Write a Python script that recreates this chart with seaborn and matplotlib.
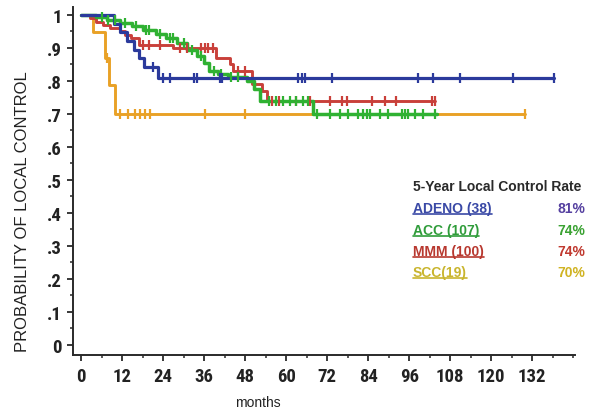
import numpy as np
import pandas as pd
import matplotlib
matplotlib.use("Agg")
import matplotlib.pyplot as plt
import seaborn as sns
from matplotlib.lines import Line2D
from matplotlib.ticker import MultipleLocator
from matplotlib import font_manager

# ---- Kaplan-Meier curves: step times (months) and survival after each step ----
adeno_t = [0, 9.5, 11.5, 13.5, 15.5, 17.0, 18.5, 22.5]
adeno_s = [1.0, 0.974, 0.947, 0.921, 0.895, 0.868, 0.842, 0.81]
adeno_end = 138.5
adeno_cens = [21.0, 24.0, 26.0, 33.0, 34.0, 40.6, 41.2, 63.5, 64.6, 65.5,
              73.4, 98.5, 103.0, 110.8, 126.3, 138.5]

acc_t = [0, 4.5, 7.5, 11.5, 15.0, 18.0, 22.0, 25.0, 28.0, 31.0, 34.0, 36.0,
         37.5, 40.0, 43.0, 48.5, 50.5, 52.3, 68.0]
acc_s = [1.0, 0.994, 0.985, 0.975, 0.965, 0.955, 0.943, 0.93, 0.915, 0.895,
         0.875, 0.855, 0.83, 0.82, 0.812, 0.80, 0.775, 0.74, 0.70]
acc_end = 104.0
acc_cens = [6.0, 8.0, 10.0, 13.0, 16.0, 19.0, 20.0, 23.0, 26.0, 27.0, 30.0,
            32.5, 35.0, 39.0, 41.0, 44.0, 46.0, 55.0, 57.0, 59.0, 61.0, 63.0,
            65.0, 66.5, 69.0, 72.8, 75.7, 78.0, 81.0, 82.5, 83.6, 84.5, 87.4,
            89.8, 94.0, 94.7, 95.6, 97.7, 100.0, 103.5]

mmm_t = [0, 2.6, 4.5, 6.5, 8.5, 11.5, 13.0, 14.5, 17.0, 27.0, 39.5, 43.5,
         44.5, 50.0, 53.0, 54.5]
mmm_s = [1.0, 0.99, 0.98, 0.97, 0.96, 0.95, 0.94, 0.93, 0.91, 0.90, 0.87,
         0.85, 0.83, 0.79, 0.77, 0.74]
mmm_end = 103.5
mmm_cens = [18.0, 20.0, 23.0, 29.0, 31.0, 35.0, 36.3, 37.2, 38.6, 46.0, 48.0,
            56.0, 58.0, 63.0, 67.0, 72.8, 76.3, 77.8, 85.0, 89.0, 92.0,
            102.6, 103.5]

scc_t = [0, 3.5, 7.0, 8.3, 10.0]
scc_s = [1.0, 0.947, 0.868, 0.789, 0.70]
scc_end = 130.0
scc_cens = [7.6, 11.5, 13.8, 15.8, 17.3, 18.7, 20.2, 36.3, 48.0, 130.0]

groups = ["ADENO", "ACC", "MMM", "SCC"]
group_labels = ["ADENO (38)", "ACC (107)", "MMM (100)", "SCC(19)"]
line_colors = {"ADENO": "#2b3a9c", "ACC": "#2fb132", "MMM": "#c9403a", "SCC": "#e9a126"}
text_colors = {"ADENO": "#3a49a6", "ACC": "#2f9c3a", "MMM": "#b8382f", "SCC": "#c9b52e"}
pct_colors = {"ADENO": "#5540a0", "ACC": "#3aa232", "MMM": "#c0392f", "SCC": "#d0b322"}

curves = {
    "ADENO": (adeno_t, adeno_s, adeno_end, adeno_cens),
    "ACC": (acc_t, acc_s, acc_end, acc_cens),
    "MMM": (mmm_t, mmm_s, mmm_end, mmm_cens),
    "SCC": (scc_t, scc_s, scc_end, scc_cens),
}


def surv_at(t, s, when):
    idx = np.searchsorted(np.asarray(t), np.asarray(when), side="right") - 1
    return np.asarray(s)[idx]


rows, marks = [], []
for g in groups:
    t, s, end, cens = curves[g]
    for ti, si in zip(list(t) + [end], list(s) + [s[-1]]):
        rows.append({"group": g, "month": ti, "surv": si})
    for c, v in zip(cens, surv_at(t, s, cens)):
        marks.append({"group": g, "month": c, "surv": v})
km = pd.DataFrame(rows)
cens_df = pd.DataFrame(marks)

sns.set_style("white")
plt.rcParams["font.family"] = ["Liberation Sans", "DejaVu Sans"]

# a condensed face for the tick numbers, if one is available
available = {f.name for f in font_manager.fontManager.ttflist}
narrow = [n for n in ["Liberation Sans Narrow", "DejaVu Sans Condensed",
                      "Roboto Condensed", "Open Sans Condensed"] if n in available]
tick_family = (narrow[:1] or ["Liberation Sans"]) + ["DejaVu Sans"]

fig = plt.figure(figsize=(6.15, 4.14), dpi=100)
fig.patch.set_facecolor("white")
ax = fig.add_axes([73 / 615, 1 - 356 / 414, 502 / 615, 348 / 414])

draw_order = ["SCC", "MMM", "ACC", "ADENO"]
widths = {"SCC": 2.1, "MMM": 2.1, "ACC": 2.5, "ADENO": 2.3}
for g in draw_order:
    sub = km[km.group == g]
    sns.lineplot(data=sub, x="month", y="surv", color=line_colors[g],
                 drawstyle="steps-post", estimator=None, sort=False,
                 linewidth=widths[g], legend=False, ax=ax, zorder=2)
for g in draw_order:
    sub = cens_df[cens_df.group == g]
    sns.scatterplot(data=sub, x="month", y="surv", color=line_colors[g],
                    marker="|", s=55, linewidth=1.6, legend=False, ax=ax,
                    zorder=3)

ax.set_xlim(-2.35, 144.5)
ax.set_ylim(-0.0303, 1.024)
ax.set_xticks(np.arange(0, 133, 12))
ax.xaxis.set_minor_locator(MultipleLocator(6))
ax.set_yticks(np.round(np.arange(0, 1.01, 0.1), 1))
ax.yaxis.set_minor_locator(MultipleLocator(0.05))
ylabels = ["0"] + ["." + str(i) for i in range(1, 10)] + ["1"]
ax.set_yticklabels(ylabels)

for side in ["top", "right"]:
    ax.spines[side].set_visible(False)
for side in ["left", "bottom"]:
    ax.spines[side].set_color("#2a2a2a")
    ax.spines[side].set_linewidth(1.4)

ax.tick_params(axis="x", which="major", direction="out", length=4, width=1.3,
               color="#2a2a2a", pad=5)
ax.tick_params(axis="x", which="minor", direction="out", length=2.5, width=1.1,
               color="#2a2a2a")
ax.tick_params(axis="y", which="major", direction="out", length=4, width=1.3,
               color="#2a2a2a", pad=4)
ax.tick_params(axis="y", which="minor", direction="out", length=2.5, width=1.1,
               color="#2a2a2a")
ax.tick_params(bottom=True, left=True, which="both")
for lbl in ax.get_xticklabels() + ax.get_yticklabels():
    lbl.set_fontfamily(tick_family)
    lbl.set_fontweight("bold")
    lbl.set_fontsize(13.5)
    lbl.set_color("#222222")

ax.set_xlabel("months", fontsize=10, color="#222222")
ax.xaxis.set_label_coords((258 - 73) / 502, (356 - 396) / 348)
ax.set_ylabel("PROBABILITY OF LOCAL CONTROL", fontsize=12, color="#222222")
ax.yaxis.set_label_coords((30 - 73) / 502, (356 - 212) / 348)

# ---- 5-year local control rate table ----
fig.text(413 / 615, 1 - 187 / 414, "5-Year Local Control Rate", fontsize=10,
         fontweight="bold", color="#2a2a2a", va="center", ha="left")
row_y = [209, 231, 252, 273]
name_texts = []
for g, lab, yy in zip(groups, group_labels, row_y):
    t, s, end, cens = curves[g]
    rate = surv_at(t, s, [60])[0]
    nt = fig.text(413 / 615, 1 - yy / 414, lab, fontsize=10, fontweight="bold",
                  color=text_colors[g], va="center", ha="left")
    name_texts.append((nt, text_colors[g]))
    fig.text(557 / 615, 1 - yy / 414, f"{rate * 100:.0f}%", fontsize=10,
             fontweight="bold", color=pct_colors[g], va="center", ha="left")

fig.canvas.draw()
renderer = fig.canvas.get_renderer()
inv = fig.transFigure.inverted()
for nt, col in name_texts:
    bb = nt.get_window_extent(renderer)
    (x0, y0), (x1, _) = inv.transform([(bb.x0, bb.y0 + 1), (bb.x1, bb.y0 + 1)])
    fig.add_artist(Line2D([x0, x1], [y0, y0], transform=fig.transFigure,
                          color=col, linewidth=1.2))

fig.savefig("out.png", dpi=100, facecolor="white")
